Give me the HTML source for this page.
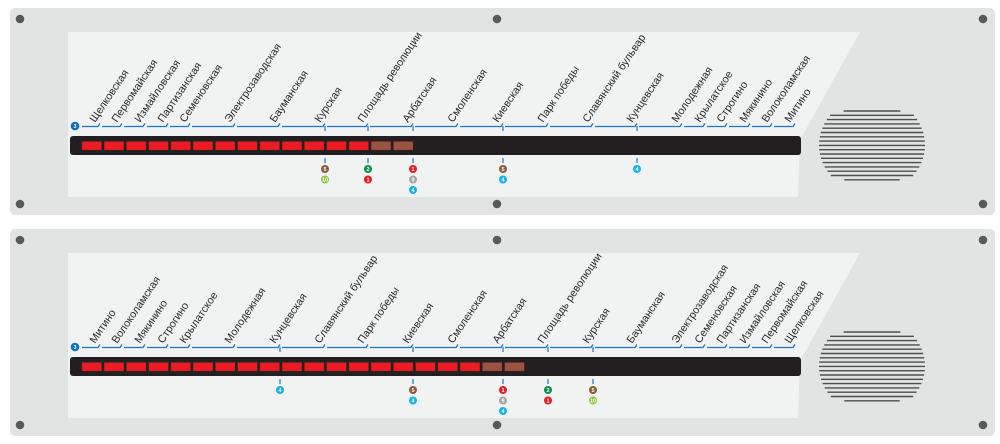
<!DOCTYPE html>
<html><head><meta charset="utf-8">
<style>
html,body{margin:0;padding:0;background:#fff;width:1000px;height:444px;overflow:hidden}
svg{display:block}
text{font-family:"Liberation Sans","DejaVu Sans",sans-serif;font-size:10.8px;fill:#2a2a2a}
.c{font-size:5.5px;fill:#fff;font-weight:bold}
</style></head><body>
<svg id="s" width="1000" height="444" viewBox="0 0 1000 444" xmlns="http://www.w3.org/2000/svg"></svg>
<script>
const stationsTop = ["Щелковская","Первомайская","Измайловская","Партизанская","Семеновская","Электрозаводская","Бауманская","Курская","Площадь революции","Арбатская","Смоленская","Киевская","Парк победы","Славянский бульвар","Кунцевская","Молодежная","Крылатское","Строгино","Мякинино","Волоколамская","Митино"];
const stationX = [100,122,145,168,190,235,280,325,368,413,458,503,548,593,637,682,705,727,750,772,795];
const litTop = 13, brownTop = 2;
const litBottom = 18, brownBottom = 2;
const transfersTop = {"Курская":["5","10"],"Площадь революции":["2","1"],"Арбатская":["1","9","4"],"Киевская":["5","4"],"Кунцевская":["4"]};
const lineColors = {"1":"#e31e24","2":"#0a8f4c","4":"#17b3e6","5":"#8b5a3c","9":"#a5a5a5","10":"#8dc63f"};
const NS="http://www.w3.org/2000/svg";
const svg=document.getElementById('s');
function el(tag,attrs,parent){const e=document.createElementNS(NS,tag);for(const k in attrs)e.setAttribute(k,attrs[k]);(parent||svg).appendChild(e);return e;}

function panel(dy, stations, lit, brown, idx){
  const g=el('g',{transform:'translate(0,'+dy+')'});
  
  
  el('rect',{x:10,y:8,width:985,height:207,rx:5,fill:'#e2e4e3'},g);
  const inner=el('polygon',{points:'68,32 860,32 800,140 798,197 68,197',fill:'#f1f2f2'},g);
  
  
  [[20,19],[497,19],[983,19],[20,204],[497,204],[983,204]].forEach(p=>{
    const s=el('circle',{cx:p[0],cy:p[1],r:4.3,fill:'#58595b'},g);
    
    
  });
  const b=el('circle',{cx:75,cy:126,r:4.3,fill:'#0b6fc3'},g);
  
  
  const bt=el('text',{x:75,y:128,'text-anchor':'middle',class:'c'},g);bt.textContent='3';
  let prev=80;
  stationX.forEach((x,i)=>{
    el('path',{d:'M'+(prev+2)+' 126.5 H'+(x-2)+' l2 -3',stroke:'#1b75c9','stroke-width':1.3,fill:'none'},g);
    prev=x;
    const t=el('text',{transform:'translate('+(x-5)+',123) rotate(-56)'},g);
    t.textContent=stations[i];
    
    
  });
  const bar=el('rect',{x:70,y:136,width:731,height:19,rx:3,fill:'#231f20'},g);
  
  
  for(let i=0;i<lit+brown;i++){
    const r=el('rect',{x:82+i*22.25,y:141.5,width:19.5,height:8.5,fill:i<lit?'#ed1c24':'#9c5442',stroke:'#7a2a20','stroke-width':0.4},g);
    
    
  }
  stations.forEach((n,i)=>{
    const tr=transfersTop[n]; if(!tr) return;
    const x=stationX[i];
    el('line',{x1:x,y1:126,x2:x,y2:131,stroke:'#1b75c9','stroke-width':1.2},g);
    el('line',{x1:x,y1:158,x2:x,y2:163,stroke:'#1b75c9','stroke-width':1.2},g);
    tr.forEach((l,j)=>{
      const c=el('circle',{cx:x,cy:169+j*10.5,r:4,fill:lineColors[l]},g);
      
      
      const tt=el('text',{x:x,y:171+j*10.5,'text-anchor':'middle',class:'c'},g);tt.textContent=l;
    });
  });
  const sp=el('g',{},g);
  
  
  const cx=872,cy=145,rx=53,ry=36;
  for(let k=0;k<17;k++){
    const y=cy-ry+2+k*4.3;const dyy=(y-cy)/ry;
    const hw=rx*Math.sqrt(Math.max(0,1-dyy*dyy*0.55))*(Math.abs(dyy)>0.9?0.75:1);
    el('line',{x1:cx-hw,y1:y,x2:cx+hw,y2:y,stroke:'#4d4d4f','stroke-width':1.4},sp);
  }
}
panel(0, stationsTop, litTop, brownTop, 1);
panel(221, stationsTop.slice().reverse(), litBottom, brownBottom, 2);
</script>
</body></html>
